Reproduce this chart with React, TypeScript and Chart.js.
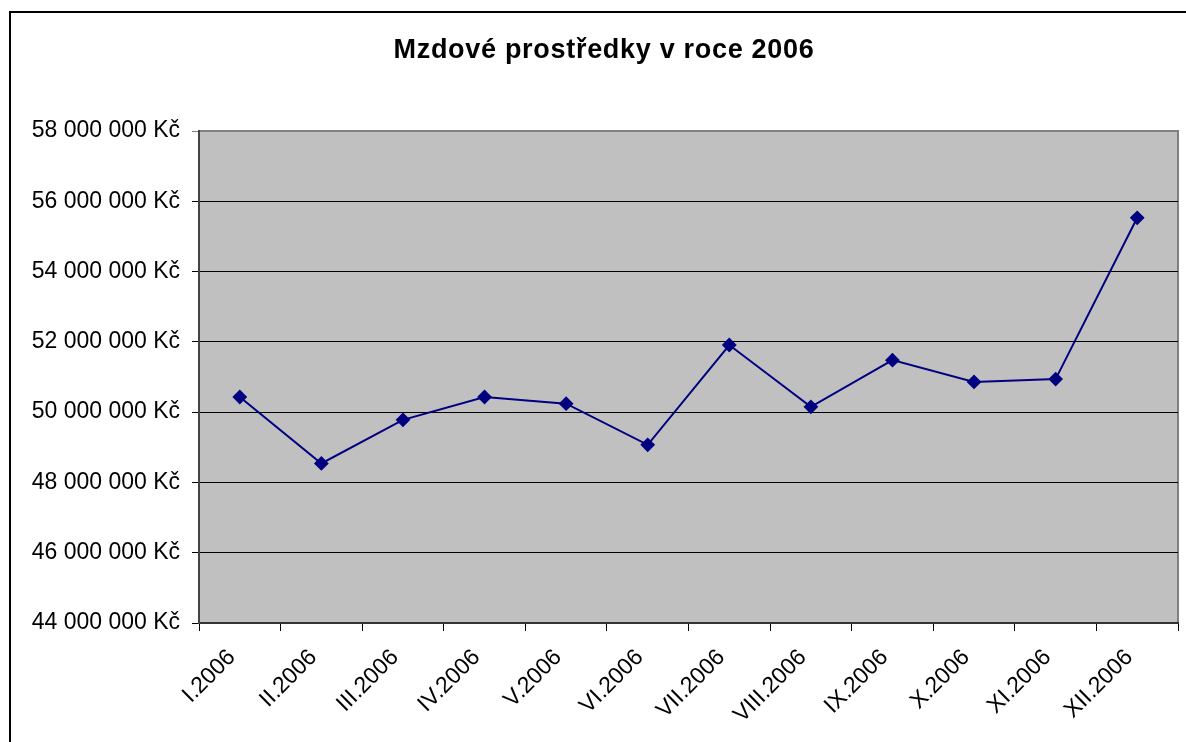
import React, { useEffect, useRef } from "react";
import { Chart, registerables } from "chart.js";

Chart.register(...registerables);

const title = "Mzdové prostředky v roce 2006";
const categories = [
  "I.2006",
  "II.2006",
  "III.2006",
  "IV.2006",
  "V.2006",
  "VI.2006",
  "VII.2006",
  "VIII.2006",
  "IX.2006",
  "X.2006",
  "XI.2006",
  "XII.2006",
];
const values = [
  50430000, 48540000, 49780000, 50430000, 50240000, 49070000, 51910000,
  50150000, 51480000, 50860000, 50940000, 55530000,
];
const yMin = 44000000;
const yMax = 58000000;
const yStep = 2000000;

const FONT = "Arial, 'Liberation Sans', sans-serif";

const formatKc = (v: number) =>
  String(Math.round(v)).replace(/\B(?=(\d{3})+(?!\d))/g, " ") + " Kč";

const plotArea = {
  id: "plotArea",
  beforeDraw(chart: any) {
    const { ctx, chartArea } = chart;
    if (!chartArea) return;
    ctx.save();
    ctx.fillStyle = "#C0C0C0";
    ctx.fillRect(
      chartArea.left,
      chartArea.top,
      chartArea.right - chartArea.left,
      chartArea.bottom - chartArea.top
    );
    ctx.strokeStyle = "#808080";
    ctx.lineWidth = 2;
    ctx.beginPath();
    ctx.moveTo(chartArea.left, chartArea.top);
    ctx.lineTo(chartArea.right, chartArea.top);
    ctx.lineTo(chartArea.right, chartArea.bottom);
    ctx.stroke();
    ctx.restore();
  },
  afterDraw(chart: any) {
    const { ctx } = chart;
    ctx.save();
    ctx.fillStyle = "#000";
    ctx.font = `bold 27px ${FONT}`;
    try {
      (ctx as any).letterSpacing = "0.7px";
    } catch (e) {}
    ctx.textAlign = "center";
    ctx.textBaseline = "middle";
    ctx.fillText(title, 604, 51);
    ctx.restore();
  },
};

export default function App() {
  const ref = useRef<HTMLCanvasElement | null>(null);

  useEffect(() => {
    if (!ref.current) return;
    const chart = new Chart(ref.current, {
      type: "line",
      data: {
        labels: categories,
        datasets: [
          {
            label: title,
            data: values,
            borderColor: "#000080",
            backgroundColor: "#000080",
            borderWidth: 2,
            pointStyle: "rectRot",
            pointRadius: 6,
            pointHoverRadius: 6,
            pointBackgroundColor: "#000080",
            pointBorderColor: "#000080",
            tension: 0,
            fill: false,
          },
        ],
      },
      options: {
        animation: false,
        responsive: false,
        maintainAspectRatio: false,
        layout: { padding: { left: 0, right: 5, top: 131, bottom: 0 } },
        plugins: {
          legend: { display: false },
          tooltip: { enabled: false },
          title: { display: false },
        },
        scales: {
          x: {
            offset: true,
            afterFit: (s: any) => {
              s.height = 119;
            },
            grid: {
              offset: true,
              drawOnChartArea: false,
              drawTicks: true,
              tickLength: 8,
              color: "#000",
            },
            border: { display: true, color: "#333", width: 2 },
            ticks: {
              color: "#000",
              font: { family: FONT, size: 23 },
              maxRotation: 45,
              minRotation: 45,
              autoSkip: false,
              padding: 13,
              labelOffset: -8,
            },
          },
          y: {
            min: yMin,
            max: yMax,
            afterFit: (s: any) => {
              s.width = 199;
            },
            grid: {
              color: (c: any) =>
                c.tick && c.tick.value === yMax ? "#808080" : "#000",
              lineWidth: 1,
              tickLength: 7,
            },
            border: { display: true, color: "#444", width: 2 },
            ticks: {
              stepSize: yStep,
              color: "#000",
              padding: 12,
              font: { family: FONT, size: 23 },
              callback: (v: any) => formatKc(Number(v)),
            },
          },
        },
      },
      plugins: [plotArea],
    });
    return () => chart.destroy();
  }, []);

  return (
    <div
      style={{
        position: "fixed",
        left: 0,
        top: 0,
        width: 1186,
        height: 742,
        overflow: "hidden",
        background: "#fff",
      }}
    >
      <canvas
        ref={ref}
        width={1186}
        height={742}
        style={{ position: "absolute", left: 0, top: 0, width: 1186, height: 742 }}
      />
      <div
        style={{
          position: "absolute",
          left: 9,
          top: 11,
          width: 1300,
          height: 900,
          borderLeft: "2px solid #000",
          borderTop: "2px solid #000",
          pointerEvents: "none",
        }}
      />
    </div>
  );
}
